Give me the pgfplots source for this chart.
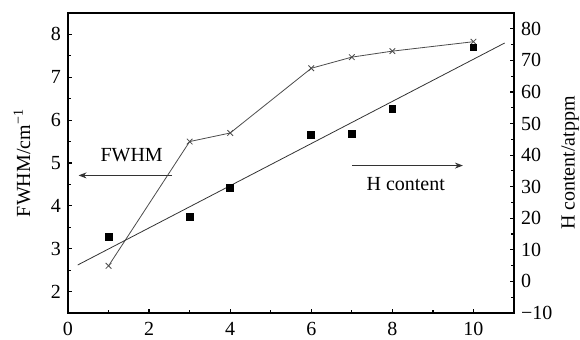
\documentclass[border=0pt]{standalone}
\usepackage{fontspec}
\setmainfont{Liberation Serif}
\usepackage{pgfplots}
\pgfplotsset{compat=1.18}
\usetikzlibrary{arrows.meta}
\pgfplotstableread{
x y
1 2.60
3 5.50
4 5.70
6 7.21
7 7.47
8 7.61
10 7.83
}\fwhm
\pgfplotstableread{
x y
1 14.0
3 20.5
4 29.5
6 46.5
7 46.8
8 54.7
10 74.1
}\hcont
\pgfplotstableread{
x y
0.24 5.2
10.77 75.5
}\hfit
\begin{document}
\begin{tikzpicture}[font=\fontsize{10}{12}\selectfont]
\pgfplotsset{
  common/.style={
    scale only axis, width=223pt, height=150pt,
    xmin=0, xmax=11,
    tick align=inside,
    major tick length=2.2pt, minor tick length=1.3pt,
    axis line style={line width=0.7pt},
    every tick/.style={black, line width=0.6pt},
    /pgf/number format/assume math mode=true,
    clip=false,
  }
}
\begin{axis}[common,
  ymin=1.5, ymax=8.5,
  xtick={0,2,...,10}, minor xtick={1,3,...,9},
  ytick={2,...,8}, minor ytick={2.5,3.5,...,7.5},
  xtick pos=bottom, ytick pos=left,
  xticklabel style={yshift=-1pt},
  ylabel={FWHM/cm\textsuperscript{−1}},
  ylabel style={at={(axis description cs:-0.103,0.5)}, anchor=center},
]
\addplot[black!70, line width=0.4pt, mark=x, mark size=2pt, mark options={black!70, line width=0.4pt}] table[x=x,y=y]{\fwhm};
\draw[black!80, line width=0.5pt, -{Stealth[length=4pt,width=3pt]}] (axis cs:2.57,4.71) -- (axis cs:0.26,4.71);
\node at (axis cs:1.57,5.19) {FWHM};
\draw[black!80, line width=0.5pt, -{Stealth[length=4pt,width=3pt]}] (axis cs:7.01,4.94) -- (axis cs:9.74,4.94);
\node at (axis cs:8.33,4.51) {H content};
\end{axis}
\begin{axis}[common,
  ymin=-10, ymax=85,
  axis y line*=right, axis x line=none,
  ytick={-10,0,...,80}, minor ytick={-5,5,...,75},
  yticklabels={−10,0,10,20,30,40,50,60,70,80},
  ylabel={H content/atppm},
  ylabel style={at={(axis description cs:1.126,0.5)}, anchor=center, rotate=0},
]
\addplot[only marks, mark=square*, mark size=1.7pt, mark options={black}] table[x=x,y=y]{\hcont};
\addplot[black!80, line width=0.4pt] table[x=x,y=y]{\hfit};
\end{axis}
\pgfresetboundingbox
\path (-34pt,-13.5pt) rectangle (256pt,156.5pt);
\end{tikzpicture}
\end{document}
